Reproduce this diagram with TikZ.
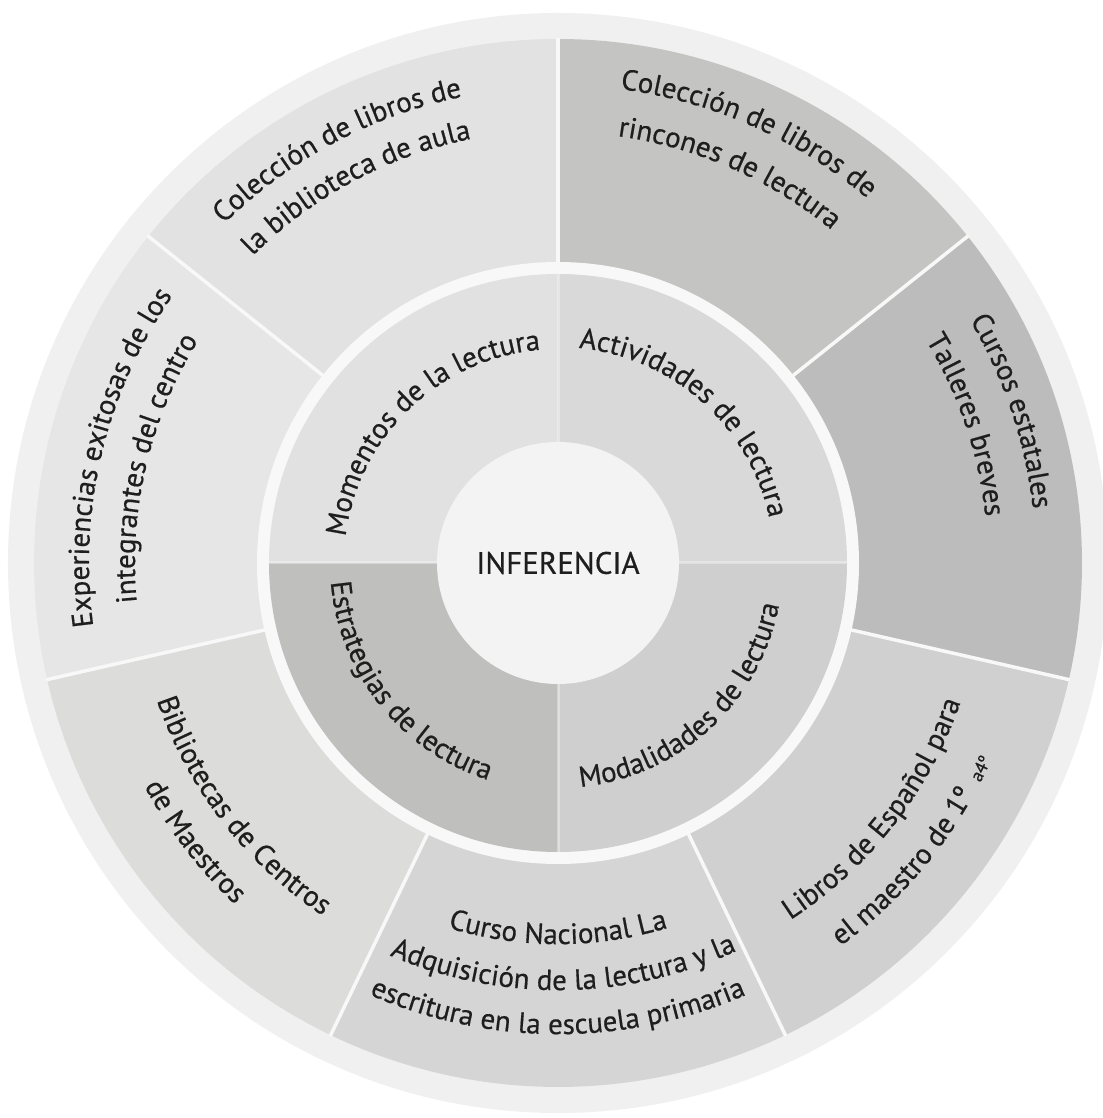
\documentclass[tikz,border=0pt]{standalone}
\usepackage{fontspec}
\setmainfont{PT Sans}[FakeBold=0.5]
\usetikzlibrary{decorations.text}
\definecolor{txt}{HTML}{1E1E1E}
\definecolor{border}{HTML}{F0F0F0}
\definecolor{gapc}{HTML}{F8F8F8}
\definecolor{aula}{HTML}{E2E2E2}
\definecolor{expe}{HTML}{E6E6E6}
\definecolor{bibl}{HTML}{DCDCDB}
\definecolor{cnac}{HTML}{D5D5D5}
\definecolor{libr}{HTML}{D0D0D0}
\definecolor{curs}{HTML}{BCBCBC}
\definecolor{rinc}{HTML}{C4C4C2}
\definecolor{mome}{HTML}{E1E1E1}
\definecolor{acti}{HTML}{D9D9D9}
\definecolor{estr}{HTML}{BFBFBD}
\definecolor{moda}{HTML}{CFCFCF}
\definecolor{cent}{HTML}{F3F3F3}
\newcommand\tf{\fontsize{29}{34}\selectfont}
\newcommand\smallf{\fontsize{18}{21}\selectfont}
% clockwise text (tops outward): center angle, baseline radius, half span, text
\newcommand\cwtext[4]{\path[decorate,decoration={text along path,text align=center,text color=txt,text={|\tf|#4}}] (#1+#3:#2) arc[start angle=#1+#3,end angle=#1-#3,radius=#2];}
% counter-clockwise text (tops inward)
\newcommand\ccwtext[4]{\path[decorate,decoration={text along path,text align=center,text color=txt,text={|\tf|#4}}] (#1-#3:#2) arc[start angle=#1-#3,end angle=#1+#3,radius=#2];}
\tikzset{
  divider/.style={draw=gapc,line width=3.5pt},
  qline/.style={draw=white,opacity=0.35,line width=3pt}
}
\begin{document}
\begin{tikzpicture}[x=1pt,y=1pt]
\useasboundingbox (-558,-555) rectangle (544,563);
\fill[white] (-558,-555) rectangle (544,563);
% outer light border
\fill[border] (0,0) circle[radius=550];
% outer sectors
\fill[aula] (0,0) -- (90:524) arc[start angle=90,end angle=141.4286,radius=524] -- cycle;
\fill[expe] (0,0) -- (141.4286:524) arc[start angle=141.4286,end angle=192.8571,radius=524] -- cycle;
\fill[bibl] (0,0) -- (192.8571:524) arc[start angle=192.8571,end angle=244.2857,radius=524] -- cycle;
\fill[cnac] (0,0) -- (244.2857:524) arc[start angle=244.2857,end angle=295.7143,radius=524] -- cycle;
\fill[libr] (0,0) -- (295.7143:524) arc[start angle=295.7143,end angle=347.1429,radius=524] -- cycle;
\fill[curs] (0,0) -- (347.1429:524) arc[start angle=347.1429,end angle=398.5714,radius=524] -- cycle;
\fill[rinc] (0,0) -- (38.5714:524) arc[start angle=38.5714,end angle=90,radius=524] -- cycle;
\foreach \a in {90,141.4286,192.8571,244.2857,295.7143,347.1429,38.5714}
  \draw[divider] (\a:290) -- (\a:525);
% gap ring
\fill[gapc] (0,0) circle[radius=301];
% inner quadrants
\fill[acti] (0,0) -- (0:289) arc[start angle=0,end angle=90,radius=289] -- cycle;
\fill[mome] (0,0) -- (90:289) arc[start angle=90,end angle=180,radius=289] -- cycle;
\fill[estr] (0,0) -- (180:289) arc[start angle=180,end angle=270,radius=289] -- cycle;
\fill[moda] (0,0) -- (270:289) arc[start angle=270,end angle=360,radius=289] -- cycle;
\foreach \a in {0,90,180,270}
  \draw[qline] (0,0) -- (\a:289);
% centre
\node[circle,fill=cent,minimum size=242pt,inner sep=0pt,text=txt,font=\fontsize{31}{36}\selectfont] (inf) at (0,0) {INFERENCIA};
% outer texts
\cwtext{118.1}{476}{70}{Colección de libros de}
\cwtext{118.2}{433}{70}{la biblioteca de aula}
\cwtext{66.1}{478}{70}{Colección de libros de}
\cwtext{66.3}{431}{70}{rincones de lectura}
\cwtext{18.5}{478}{70}{Cursos estatales}
\cwtext{18.7}{430}{70}{Talleres breves}
\cwtext{166.5}{469}{70}{Experiencias exitosas de los}
\cwtext{166.8}{423}{70}{integrantes del centro}
\ccwtext{217.6}{424}{70}{Bibliotecas de Centros}
\ccwtext{217.5}{470}{70}{de Maestros}
\ccwtext{270}{381}{70}{Curso Nacional La}
\ccwtext{270.8}{427}{70}{Adquisición de la lectura y la}
\ccwtext{270}{471}{70}{escritura en la escuela primaria}
\ccwtext{322}{426}{70}{Libros de Español para}
\ccwtext{321}{476}{70}{el maestro de 1º |\smallf| a4º}
% inner texts
\cwtext{133.8}{214}{80}{Momentos de la lectura}
\cwtext{48.2}{216}{80}{Actividades de lectura}
\ccwtext{218.5}{228}{80}{Estrategias de lectura}
\ccwtext{312.5}{225}{80}{Modalidades de lectura}
\end{tikzpicture}
\end{document}
